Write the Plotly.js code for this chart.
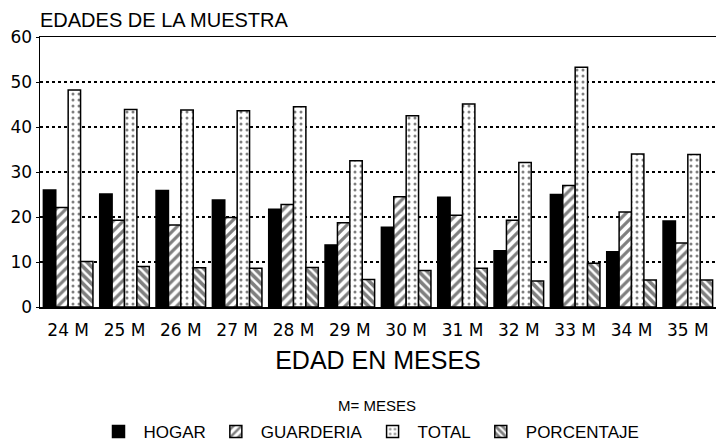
<!DOCTYPE html>
<html>
<head>
<meta charset="utf-8">
<script src="https://cdn.plot.ly/plotly-3.0.1.min.js"></script>
<style>html,body{margin:0;padding:0;background:#fff;}#chart{width:716px;height:444px;}</style>
</head>
<body>
<div id="chart"></div>
<script>
const categories = ["24 M","25 M","26 M","27 M","28 M","29 M","30 M","31 M","32 M","33 M","34 M","35 M"];
const hogar      = [26.0, 25.1, 25.9, 23.8, 21.7, 13.8, 17.7, 24.4, 12.5, 25.0, 12.3, 19.1];
const guarderia  = [22.1, 19.3, 18.2, 19.9, 22.8, 18.7, 24.5, 20.4, 19.3, 27.0, 21.1, 14.2];
const total      = [48.2, 43.9, 43.8, 43.6, 44.5, 32.5, 42.5, 45.1, 32.1, 53.3, 34.0, 33.9];
const porcentaje = [10.1, 9.0, 8.7, 8.6, 8.8, 6.1, 8.1, 8.6, 5.8, 9.7, 6.0, 6.0];
const yTicks = [0, 10, 20, 30, 40, 50, 60];

const outline = {color: "black", width: 1.5};
const traces = [
  {type: "bar", name: "HOGAR", x: categories, y: hogar,
   marker: {color: "black", line: outline}},
  {type: "bar", name: "GUARDERIA", x: categories, y: guarderia,
   marker: {color: "white", line: outline,
            pattern: {shape: "/", fgcolor: "black", bgcolor: "white", fillmode: "overlay", size: 7, solidity: 0.45}}},
  {type: "bar", name: "TOTAL", x: categories, y: total,
   marker: {color: "white", line: outline,
            pattern: {shape: ".", fgcolor: "black", bgcolor: "white", fillmode: "overlay", size: 6, solidity: 0.2}}},
  {type: "bar", name: "PORCENTAJE", x: categories, y: porcentaje,
   marker: {color: "white", line: outline,
            pattern: {shape: "\\", fgcolor: "black", bgcolor: "white", fillmode: "overlay", size: 6, solidity: 0.6}}}
];

const layout = {
  width: 716, height: 444,
  margin: {l: 40, r: 0, t: 37, b: 137},
  paper_bgcolor: "white", plot_bgcolor: "white",
  barmode: "group", bargap: 0.12, bargroupgap: 0,
  font: {family: "Liberation Sans, Arial, sans-serif", color: "black"},
  title: {text: "EDADES DE LA MUESTRA", x: 40/716, xanchor: "left", y: 1 - 20/444, yanchor: "middle",
          font: {family: "Liberation Sans, Arial, sans-serif", size: 20, color: "black"}},
  xaxis: {
    showline: true, linecolor: "black", linewidth: 1.5, mirror: true,
    ticks: "", tickfont: {family: "DejaVu Sans, sans-serif", size: 17, color: "black"},
    ticklabelstandoff: 7,
    title: {text: "EDAD EN MESES", standoff: 12, font: {family: "Liberation Sans, Arial, sans-serif", size: 25, color: "black"}},
    automargin: false, fixedrange: true
  },
  yaxis: {
    range: [0, 60], tickvals: yTicks, ticktext: yTicks.map(String),
    showline: true, linecolor: "black", linewidth: 1.5,
    showgrid: true, gridcolor: "black", griddash: "dot", gridwidth: 1.5,
    zeroline: false, ticks: "outside", ticklen: 3, tickcolor: "black",
    tickfont: {family: "DejaVu Sans, sans-serif", size: 17, color: "black"},
    automargin: false, fixedrange: true
  },
  showlegend: true,
  legend: {orientation: "h", xref: "container", x: 369/716, xanchor: "center",
           yref: "container", y: 1 - 432/444, yanchor: "middle",
           font: {family: "Liberation Sans, Arial, sans-serif", size: 17, color: "black"},
           itemwidth: 40, itemclick: false, traceorder: "normal"},
  annotations: [
    {text: "M= MESES", xref: "paper", yref: "paper", x: 0.498, y: -0.363, xanchor: "center", yanchor: "middle",
     showarrow: false, font: {family: "Liberation Sans, Arial, sans-serif", size: 15, color: "black"}}
  ]
};

Plotly.newPlot("chart", traces, layout, {staticPlot: true, displayModeBar: false});
</script>
</body>
</html>
